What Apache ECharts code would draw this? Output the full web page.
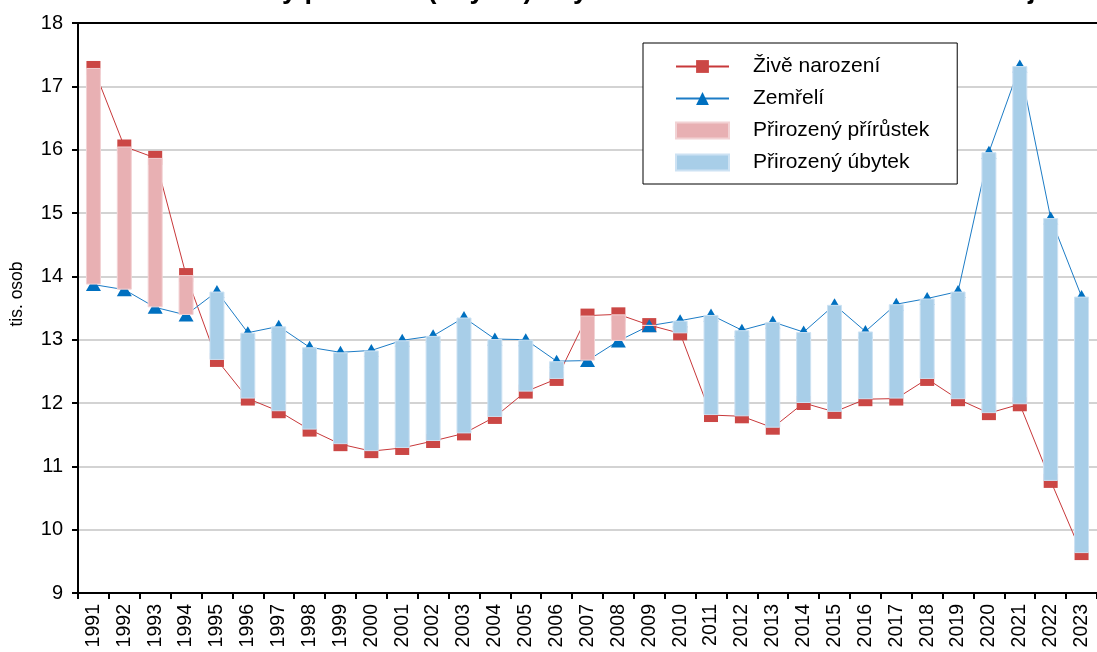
<!DOCTYPE html>
<html><head><meta charset="utf-8">
<script src="https://cdn.jsdelivr.net/npm/echarts@6/dist/echarts.min.js"></script>
<style>html,body{margin:0;padding:0;background:#fff}#c{width:1097px;height:652px}</style>
</head><body><div id="c"></div>
<script>
const titleText = 'Přirozený přírůstek (úbytek) obyvatelstva v Moravskoslezském kraji';
const years = ['1991','1992','1993','1994','1995','1996','1997','1998','1999','2000','2001','2002','2003','2004','2005','2006','2007','2008','2009','2010','2011','2012','2013','2014','2015','2016','2017','2018','2019','2020','2021','2022','2023'];
const births = [17.29,16.05,15.87,14.02,12.68,12.07,11.87,11.58,11.35,11.24,11.29,11.40,11.52,11.78,12.18,12.38,13.38,13.40,13.23,13.10,11.81,11.79,11.61,12.00,11.86,12.06,12.07,12.38,12.06,11.84,11.98,10.77,9.63];
const deaths = [13.87,13.79,13.51,13.39,13.76,13.11,13.21,12.88,12.80,12.83,12.99,13.06,13.35,13.01,13.00,12.66,12.67,12.98,13.22,13.30,13.39,13.15,13.28,13.12,13.55,13.13,13.56,13.65,13.76,15.96,17.32,14.92,13.68];
const seriesNames = ['Živě narození','Zemřelí','Přirozený přírůstek','Přirozený úbytek'];
const yName = 'tis. osob';

const r = v => Math.round(v * 1000) / 1000;
const base = births.map((b, i) => Math.min(b, deaths[i]));
const gain = births.map((b, i) => b > deaths[i] ? r(b - deaths[i]) : '-');
const loss = births.map((b, i) => deaths[i] > b ? r(deaths[i] - b) : '-');

const FONT = 'Liberation Sans, Arial, sans-serif';
const chart = echarts.init(document.getElementById('c'), null, {renderer: 'canvas'});
chart.setOption({
  animation: false,
  backgroundColor: '#fff',
  title: {
    text: titleText, left: 174, top: -23, padding: 0,
    textStyle: {fontSize: 27, fontWeight: 'bold', fontFamily: FONT, color: '#000'}
  },
  legend: {
    orient: 'vertical', left: 643, top: 43,
    padding: [13, 28, 11, 32],
    itemWidth: 53, itemHeight: 16, itemGap: 11,
    borderColor: '#000', borderWidth: 1, backgroundColor: '#fff',
    textStyle: {fontSize: 21, color: '#000', fontFamily: FONT, padding: [0, 0, 0, 19]},
    data: [
      {name: seriesNames[0]},
      {name: seriesNames[1]},
      {name: seriesNames[2], icon: 'rect'},
      {name: seriesNames[3], icon: 'rect'}
    ]
  },
  grid: {left: 78, right: -7, top: 23, bottom: 59, containLabel: false},
  xAxis: [{
    type: 'category', data: years, boundaryGap: true,
    axisLine: {show: true, lineStyle: {color: '#000', width: 2}},
    axisTick: {show: true, inside: false, length: 6, interval: 0, lineStyle: {color: '#000', width: 2}},
    axisLabel: {interval: 0, rotate: 90, margin: 11, fontSize: 19.5, color: '#000', fontFamily: FONT}
  }, {
    type: 'category', data: years, position: 'top',
    axisLine: {show: true, lineStyle: {color: '#000', width: 2}},
    axisTick: {show: false}, axisLabel: {show: false}
  }],
  yAxis: {
    type: 'value', min: 9, max: 18, interval: 1,
    name: yName, nameLocation: 'middle', nameRotate: 90, nameGap: 52,
    nameTextStyle: {fontSize: 17.5, color: '#000', fontFamily: FONT, padding: [0, 0, 0, 28]},
    axisLine: {show: true, lineStyle: {color: '#000', width: 2}},
    axisTick: {show: true, inside: false, length: 6, lineStyle: {color: '#000', width: 2}},
    axisLabel: {fontSize: 20, color: '#000', margin: 15, fontFamily: FONT},
    splitLine: {show: true, showMinLine: false, showMaxLine: false, lineStyle: {color: '#C4C4C4', width: 1.5}}
  },
  series: [
    {type: 'bar', name: 'base', stack: 'g', data: base, barWidth: 15, z: 5, silent: true,
     itemStyle: {color: 'rgba(0,0,0,0)'}, emphasis: {disabled: true}},
    {type: 'bar', name: seriesNames[2], stack: 'g', data: gain, barWidth: 15, z: 5,
     itemStyle: {color: '#E8B0B3', borderColor: '#F2D2D4', borderWidth: 1}},
    {type: 'bar', name: seriesNames[3], stack: 'g', data: loss, barWidth: 15, z: 5,
     itemStyle: {color: '#A8CEE8', borderColor: '#CDE2F3', borderWidth: 1}},
    {type: 'line', name: seriesNames[0], data: births, z: 2,
     symbol: 'rect', symbolSize: 14, showAllSymbol: true,
     lineStyle: {color: '#C8383A', width: 1}, itemStyle: {color: '#CB4745'}},
    {type: 'line', name: seriesNames[1], data: deaths, z: 2,
     symbol: 'triangle', symbolSize: [15, 13], showAllSymbol: true,
     lineStyle: {color: '#1C7CC6', width: 1}, itemStyle: {color: '#0070C0'}}
  ]
});
</script></body></html>
